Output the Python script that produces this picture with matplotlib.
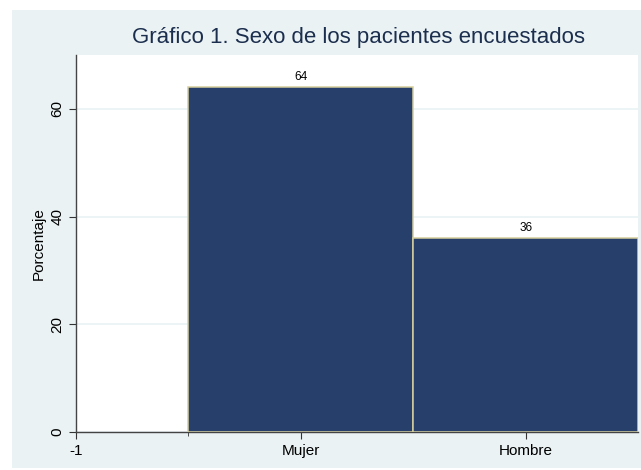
import matplotlib
matplotlib.use("Agg")
import matplotlib.pyplot as plt
from matplotlib.patches import Rectangle

# data
categorias = ["Mujer", "Hombre"]
posiciones = [0, 1]
porcentajes = [64, 36]

plt.rcParams['font.family'] = ['Liberation Sans', 'DejaVu Sans']

fig = plt.figure(figsize=(6.41, 4.70), dpi=100, facecolor='white')
# light background panel like stata graph region
fig.patches.append(Rectangle((12/641, 2/470), 1 - 12/641, 1 - 12/470,
                             transform=fig.transFigure, facecolor='#EAF2F3',
                             edgecolor='none', zorder=-10))

ax = fig.add_axes([76/641, 1 - 432/470, (638 - 76)/641, (432 - 55)/470])
ax.set_facecolor('white')

bars = ax.bar(posiciones, porcentajes, width=1.0, color='#263F6B',
              edgecolor='#D6CF9C', linewidth=1.1, zorder=3)
for b, v in zip(bars, porcentajes):
    ax.text(b.get_x() + b.get_width()/2, v + 0.8, str(v), ha='center',
            va='bottom', fontsize=8.5, color='black', zorder=4)

ax.set_xlim(-1, 1.5)
ax.set_ylim(0, 70)
ax.set_xticks([-1] + posiciones)
ax.set_xticklabels(["-1"] + categorias, fontsize=11)
ax.set_xticks([-0.5], minor=True)
ax.tick_params(axis='x', which='minor', length=3, color='#333333')
ax.set_yticks([0, 20, 40, 60])
ax.set_yticklabels(["0", "20", "40", "60"], rotation=90, va='center', fontsize=11)
ax.tick_params(axis='both', which='major', length=5, color='#333333', labelcolor='black')

ax.yaxis.grid(True, color='#EAF2F3', linewidth=1.2, zorder=0)
ax.set_axisbelow(True)

for s in ['top', 'right']:
    ax.spines[s].set_visible(False)
for s in ['left', 'bottom']:
    ax.spines[s].set_color('#444444')
    ax.spines[s].set_linewidth(1.0)

ax.set_ylabel("Porcentaje", fontsize=11)
ax.yaxis.set_label_coords(-30/562, 0.5)

fig.text(358/641, 1 - 38/470, "Gráfico 1. Sexo de los pacientes encuestados",
         ha='center', va='center', fontsize=16, color='#1C2E4E')

fig.savefig("out.png", dpi=100, facecolor=fig.get_facecolor())
